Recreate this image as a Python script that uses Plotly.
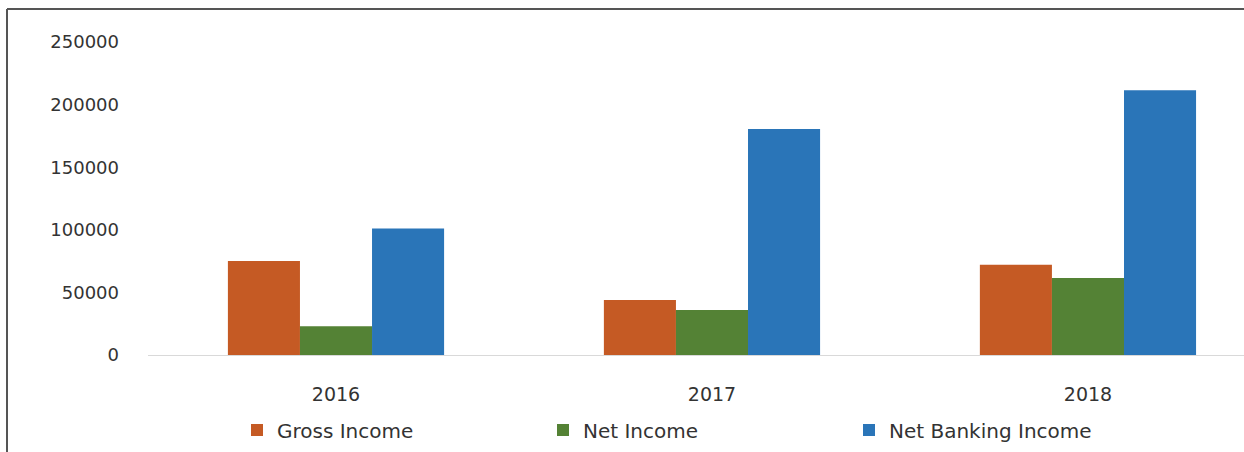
import plotly.graph_objects as go

years = ["2016", "2017", "2018"]
gross_income = [75000, 44000, 72000]
net_income = [23000, 36000, 61500]
net_banking_income = [101000, 180500, 211500]
y_ticks = [0, 50000, 100000, 150000, 200000, 250000]

colors = {"Gross Income": "#C55A24", "Net Income": "#548235", "Net Banking Income": "#2A75B8"}

fig = go.Figure()
for name, vals in [("Gross Income", gross_income), ("Net Income", net_income),
                   ("Net Banking Income", net_banking_income)]:
    fig.add_trace(go.Bar(x=years, y=vals, name=name, marker_color=colors[name],
                         marker_line_width=0))

W, H = 1244, 452
L, T, B = 148, 30, 97
pw, ph = W - L, H - T - B

def px_x(p):
    return (p - L) / pw

def px_y(p):
    return (H - B - p) / ph

fig.update_layout(
    width=W, height=H,
    margin=dict(l=L, r=0, t=T, b=B),
    paper_bgcolor="white", plot_bgcolor="white",
    barmode="group", bargap=0.425, bargroupgap=0,
    font=dict(family="DejaVu Sans", color="#333333"),
    xaxis=dict(range=[-0.5, 2.415], showgrid=False, showline=True, linecolor="#d9d9d9",
               linewidth=1, ticks="", tickfont=dict(size=19), ticklabelstandoff=22),
    yaxis=dict(range=[0, 259600], tickvals=y_ticks, ticktext=[str(v) for v in y_ticks],
               showgrid=False, zeroline=False, showline=False, ticks="",
               tickfont=dict(size=18), ticklabelstandoff=28),
    legend=dict(orientation="h", x=px_x(237), xanchor="left", y=px_y(430), yanchor="middle",
                font=dict(size=20, color="#333333"), entrywidth=261, entrywidthmode="pixels",
                bgcolor="rgba(0,0,0,0)"),
    shapes=[
        dict(type="line", xref="paper", yref="paper", x0=px_x(7), x1=px_x(7),
             y0=px_y(9), y1=px_y(H + 5), line=dict(color="#555555", width=2)),
        dict(type="line", xref="paper", yref="paper", x0=px_x(7), x1=px_x(W + 5),
             y0=px_y(9), y1=px_y(9), line=dict(color="#555555", width=2)),
    ],
)

fig.write_html("out.html", config={"displayModeBar": False},
               post_script="document.body.style.margin='0';")
